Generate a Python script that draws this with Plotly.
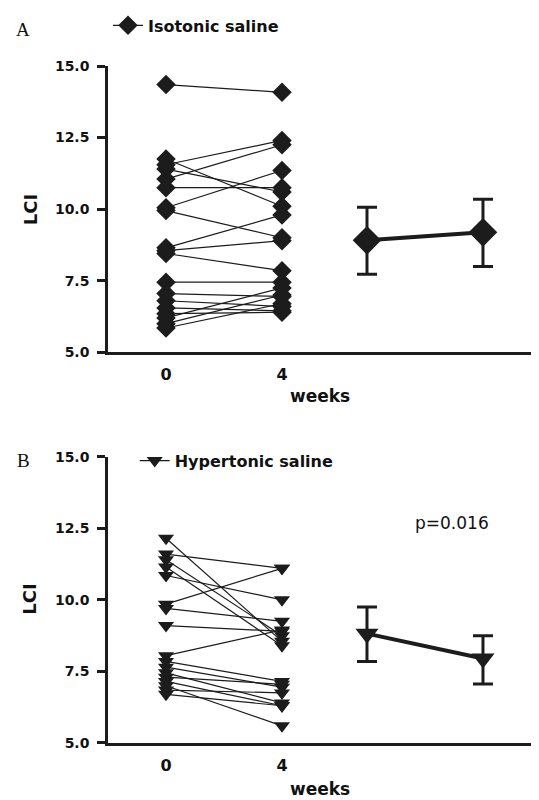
import plotly.graph_objects as go

# ---------------- data ----------------
weeks = [0, 4]

iso_week0 = [14.35, 11.75, 11.55, 11.40, 11.05, 10.75, 10.05, 9.95, 8.65, 8.55,
             8.45, 7.45, 7.05, 6.80, 6.55, 6.35, 6.20, 6.00, 5.85]
iso_week4 = [14.08, 10.10, 12.40, 10.60, 12.25, 10.75, 11.35, 9.00, 9.80, 8.90,
             7.85, 7.45, 6.95, 6.60, 6.45, 6.40, 7.25, 7.00, 6.70]

hyp_week0 = [12.15, 11.60, 11.40, 11.15, 10.85, 9.85, 9.70, 9.10, 8.05, 7.85,
             7.65, 7.45, 7.30, 7.15, 7.00, 6.85, 6.70]
hyp_week4 = [8.55, 11.10, 8.75, 8.40, 10.00, 11.10, 9.25, 8.90, 8.95, 7.15,
             6.95, 6.40, 7.05, 6.30, 5.60, 6.75, 6.30]

iso_mean = [8.91, 9.19]
iso_upper = [10.07, 10.35]
iso_lower = [7.73, 8.00]

hyp_mean = [8.82, 7.95]
hyp_upper = [9.75, 8.75]
hyp_lower = [7.85, 7.06]

y_ticks = [5.0, 7.5, 10.0, 12.5, 15.0]

# ---------------- styling ----------------
INK = "#1c1c1c"
SANS = "DejaVu Sans"
MEAN_OFFSET = 1.733  # horizontal offset of the summary group (axis units)

fig = go.Figure()


def paired(w0, w4):
    xs, ys = [], []
    for a, b in zip(w0, w4):
        xs += [0, 1, None]
        ys += [a, b, None]
    return xs, ys


def add_panel(w0, w4, mean, upper, lower, symbol, name, xa, ya, legend, msize, mmean):
    xs, ys = paired(w0, w4)
    fig.add_trace(go.Scatter(
        x=xs, y=ys, mode="lines+markers", name=name,
        line=dict(color=INK, width=1.2),
        marker=dict(symbol=symbol, size=msize, color=INK),
        xaxis=xa, yaxis=ya, legend=legend, showlegend=True,
    ))
    fig.add_trace(go.Scatter(
        x=[MEAN_OFFSET + i for i in range(len(mean))], y=mean,
        mode="lines+markers",
        line=dict(color=INK, width=4),
        marker=dict(symbol=symbol, size=mmean, color=INK),
        error_y=dict(type="data", symmetric=False,
                     array=[u - m for u, m in zip(upper, mean)],
                     arrayminus=[m - l for m, l in zip(mean, lower)],
                     color=INK, thickness=3, width=10),
        xaxis=xa, yaxis=ya, showlegend=False,
    ))


add_panel(iso_week0, iso_week4, iso_mean, iso_upper, iso_lower,
          "diamond", "Isotonic saline", "x", "y", "legend", 15, 22)
add_panel(hyp_week0, hyp_week4, hyp_mean, hyp_upper, hyp_lower,
          "triangle-down", "Hypertonic saline", "x2", "y2", "legend2", 14, 20)

xaxis_style = dict(
    range=[-0.5, 3.216], tickmode="array", tickvals=[0, 1],
    ticktext=[str(w) for w in weeks],
    showline=True, linewidth=2.5, linecolor=INK,
    ticks="outside", ticklen=6, tickcolor="rgba(0,0,0,0)",
    showgrid=False, zeroline=False,
    tickfont=dict(family=SANS, size=16, color="#111", weight="bold"),
)
yaxis_style = dict(
    range=[5, 15], tickmode="array", tickvals=y_ticks,
    ticktext=[f"{v:.1f}" for v in y_ticks],
    showline=True, linewidth=2.5, linecolor=INK,
    ticks="outside", ticklen=8, tickwidth=2.5, tickcolor=INK,
    ticklabelstandoff=5,
    showgrid=False, zeroline=False,
    tickfont=dict(family=SANS, size=14, color="#111", weight="bold"),
)

legend_style = dict(
    xanchor="left", yanchor="middle", bgcolor="rgba(0,0,0,0)",
    font=dict(family=SANS, size=16, color="#111", weight="bold"),
    itemsizing="trace",
)

# the page body adds an 8px offset, so the figure is 8px smaller in each direction
fig.update_layout(
    width=531, height=792, autosize=False,
    margin=dict(l=100, r=0, t=54, b=57),
    paper_bgcolor="white", plot_bgcolor="white",
    xaxis=dict(domain=[0, 1], anchor="y", **xaxis_style),
    yaxis=dict(domain=[0.5771, 1], anchor="x", **yaxis_style),
    xaxis2=dict(domain=[0, 1], anchor="y2", **xaxis_style),
    yaxis2=dict(domain=[0, 0.4229], anchor="x2", **yaxis_style),
    legend=dict(x=0.0, y=1.060, **legend_style),
    legend2=dict(x=0.062, y=0.417, **legend_style),
)

annots = [
    dict(text="A", x=-0.197, y=1.0543, font=dict(family="Liberation Serif", size=19, color="#111")),
    dict(text="B", x=-0.197, y=0.417, font=dict(family="Liberation Serif", size=19, color="#111")),
    dict(text="LCI", x=-0.181, y=0.7885, textangle=-90,
         font=dict(family=SANS, size=18, color="#111", weight="bold")),
    dict(text="LCI", x=-0.181, y=0.213, textangle=-90,
         font=dict(family=SANS, size=18, color="#111", weight="bold")),
    dict(text="weeks", x=(320 - 108) / 431, y=0.5125,
         font=dict(family=SANS, size=17, color="#111", weight="bold")),
    dict(text="weeks", x=(320 - 108) / 431, y=-0.0675,
         font=dict(family=SANS, size=17, color="#111", weight="bold")),
    dict(text="p=0.016", x=(452 - 108) / 431, y=0.3245,
         font=dict(family=SANS, size=17, color="#111")),
]
for a in annots:
    fig.add_annotation(xref="paper", yref="paper", showarrow=False,
                       xanchor="center", yanchor="middle", **a)

fig.write_html("out.html")
